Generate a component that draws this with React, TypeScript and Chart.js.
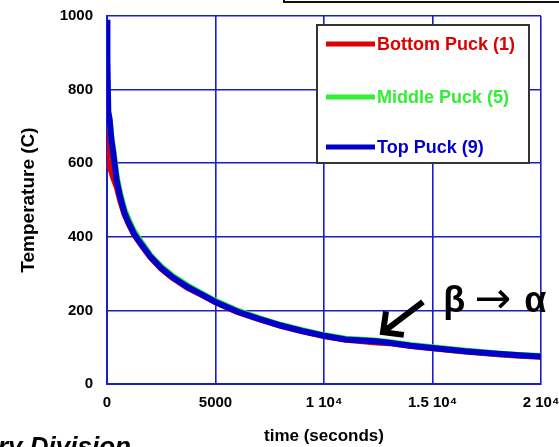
import React, { useEffect, useRef } from "react";
import { Chart, registerables } from "chart.js";

Chart.register(...registerables);

// ---- data ----
const timeSec = [0, 20, 60, 120, 200, 300, 450, 600, 800, 1000, 1250, 1600, 2000, 2500, 3000, 3700, 4400, 5000, 6000, 7000, 8000, 9000, 10000, 11000, 11800, 12400, 13000, 14000, 15000, 16500, 18000, 19000, 20000];
const bottomPuck = [718, 650, 610, 592, 578, 558, 535, 500, 462, 435, 406, 376, 344, 313, 289, 262, 241, 222, 196, 176, 158, 143, 130, 120, 116, 113, 111, 103, 97, 88, 81, 77, 74];
const middlePuck = [745, 742, 738, 718, 672, 632, 562, 520, 475, 446, 415, 384, 350, 319, 295, 268, 245, 226, 200, 179, 161, 146, 133, 123, 120, 118, 114, 106, 100, 91, 83, 79, 76];
const topPuck = [990, 880, 740, 720, 665, 622, 552, 510, 466, 438, 408, 378, 346, 315, 291, 264, 242, 223, 197, 177, 159, 144, 131, 121, 118, 116, 112, 104, 98, 89, 82, 78, 75];
const seriesLabels = ["Bottom Puck (1)", "Middle Puck (5)", "Top Puck (9)"];
const seriesColors = ["#dd0000", "#33ee33", "#0000cc"];
const xTickValues = [0, 5000, 10000, 15000, 20000];
const xTickLabels = ["0", "5000", "1 10⁴", "1.5 10⁴", "2 10⁴"];
const yTickValues = [0, 200, 400, 600, 800, 1000];
const xTitle = "time (seconds)";
const yTitle = "Temperature (C)";
const annotationBeta = "β";
const annotationArrow = "→";
const annotationAlpha = "α";
const annotationTextAt = { x: 15500, y: 196 };
const arrowTail = { x: 14560, y: 223 };
const arrowTip = { x: 12720, y: 141 };
const footerText = "ry Division";

const FONT = "'Liberation Sans', Arial, Helvetica, sans-serif";
const GRID = "#1c1ccc";

const legendPlugin = {
  id: "boxLegend",
  afterDatasetsDraw(chart: any) {
    const { ctx, chartArea } = chart;
    const left = chartArea.right - 224;
    const top = chartArea.top + 9;
    const w = 212;
    const h = 138;
    ctx.save();
    ctx.fillStyle = "#ffffff";
    ctx.fillRect(left, top, w, h);
    ctx.strokeStyle = "#333333";
    ctx.lineWidth = 2;
    ctx.strokeRect(left, top, w, h);
    const rows = [19, 72, 122];
    chart.data.datasets.forEach((ds: any, i: number) => {
      const y = top + rows[i];
      ctx.strokeStyle = ds.borderColor;
      ctx.lineWidth = 5;
      ctx.beginPath();
      ctx.moveTo(left + 9, y);
      ctx.lineTo(left + 58, y);
      ctx.stroke();
      ctx.fillStyle = ds.borderColor;
      ctx.font = `bold 18px ${FONT}`;
      ctx.textAlign = "left";
      ctx.textBaseline = "middle";
      ctx.fillText(ds.label, left + 60, y + 1);
    });
    ctx.restore();
  },
};

const annotationPlugin = {
  id: "arrowNote",
  afterDatasetsDraw(chart: any) {
    const { ctx } = chart;
    const xs = chart.scales.x;
    const ys = chart.scales.y;
    const tx = xs.getPixelForValue(arrowTail.x);
    const ty = ys.getPixelForValue(arrowTail.y);
    const hx = xs.getPixelForValue(arrowTip.x);
    const hy = ys.getPixelForValue(arrowTip.y);
    const ang = Math.atan2(hy - ty, hx - tx);
    ctx.save();
    ctx.strokeStyle = "#000";
    ctx.lineWidth = 6;
    ctx.lineCap = "butt";
    ctx.beginPath();
    ctx.moveTo(tx, ty);
    ctx.lineTo(hx - 3 * Math.cos(ang), hy - 3 * Math.sin(ang));
    ctx.stroke();
    const wl = 21;
    ctx.lineJoin = "miter";
    ctx.beginPath();
    ctx.moveTo(hx - wl * Math.cos(ang - 0.78), hy - wl * Math.sin(ang - 0.78));
    ctx.lineTo(hx, hy);
    ctx.lineTo(hx - wl * Math.cos(ang + 0.78), hy - wl * Math.sin(ang + 0.78));
    ctx.stroke();
    // label
    const lx = xs.getPixelForValue(annotationTextAt.x);
    const ly = ys.getPixelForValue(annotationTextAt.y);
    ctx.fillStyle = "#000";
    ctx.textAlign = "left";
    ctx.textBaseline = "alphabetic";
    ctx.font = `bold 36px ${FONT}`;
    ctx.fillText(annotationBeta, lx, ly);
    ctx.font = `44px 'DejaVu Sans', ${FONT}`;
    ctx.fillText(annotationArrow, lx + 31, ly + 1);
    ctx.font = `bold 36px ${FONT}`;
    ctx.fillText(annotationAlpha, lx + 81, ly);
    ctx.restore();
  },
};

export default function App() {
  const ref = useRef<HTMLCanvasElement | null>(null);
  useEffect(() => {
    if (!ref.current) return;
    const series = [bottomPuck, middlePuck, topPuck];
    const chart = new Chart(ref.current, {
      type: "line",
      data: {
        datasets: series.map((vals, i) => ({
          label: seriesLabels[i],
          data: timeSec.map((t, k) => ({ x: t, y: vals[k] })),
          borderColor: seriesColors[i],
          backgroundColor: seriesColors[i],
          borderWidth: 6,
          pointRadius: 0,
          tension: 0,
          fill: false,
          order: 2 - i,
        })),
      },
      options: {
        responsive: false,
        animation: false,
        layout: { padding: { left: 0, top: 16, right: 18, bottom: 0 } },
        plugins: { legend: { display: false }, tooltip: { enabled: false } },
        scales: {
          x: {
            type: "linear",
            min: 0,
            max: 20000,
            afterBuildTicks: (s: any) => {
              s.ticks = xTickValues.map((v) => ({ value: v }));
            },
            afterFit: (s: any) => {
              s.height = 63;
              s.paddingLeft = 0;
              s.paddingRight = 0;
            },
            ticks: {
              autoSkip: false,
              maxRotation: 0,
              padding: 10,
              color: "#000",
              font: { family: FONT, size: 15, weight: "bold" },
              callback: (v: any) => {
                const i = xTickValues.indexOf(Number(v));
                return i >= 0 ? xTickLabels[i] : "";
              },
            },
            grid: { color: GRID, lineWidth: 1.6, drawTicks: false },
            border: { color: GRID, width: 2 },
            title: {
              display: true,
              text: xTitle,
              color: "#000",
              font: { family: FONT, size: 17, weight: "bold" },
              padding: { top: 0, bottom: 0 },
            },
          },
          y: {
            type: "linear",
            min: 0,
            max: 1000,
            afterBuildTicks: (s: any) => {
              s.ticks = yTickValues.map((v) => ({ value: v }));
            },
            afterFit: (s: any) => {
              s.width = 107;
              s.paddingTop = 0;
              s.paddingBottom = 0;
            },
            ticks: {
              padding: 14,
              color: "#000",
              font: { family: FONT, size: 15, weight: "bold" },
              callback: (v: any) => String(v),
            },
            grid: { color: GRID, lineWidth: 1.6, drawTicks: false },
            border: { color: GRID, width: 2 },
            title: {
              display: true,
              text: yTitle,
              color: "#000",
              font: { family: FONT, size: 19, weight: "bold" },
              padding: { top: 17, bottom: 0 },
            },
          },
        },
      },
      plugins: [legendPlugin, annotationPlugin],
    } as any);
    return () => chart.destroy();
  }, []);

  return (
    <div
      style={{
        position: "fixed",
        left: 0,
        top: 0,
        width: 559,
        height: 447,
        overflow: "hidden",
        background: "#fff",
      }}
    >
      <canvas ref={ref} width={559} height={447} style={{ position: "absolute", left: 0, top: 0, width: 559, height: 447 }} />
      <div
        style={{
          position: "absolute",
          left: 283,
          top: -21,
          width: 290,
          height: 20,
          border: "2px solid #111",
        }}
      />
      <div
        style={{
          position: "absolute",
          left: -2,
          top: 433,
          fontFamily: FONT,
          fontWeight: "bold",
          fontStyle: "italic",
          fontSize: 26,
          lineHeight: "26px",
          whiteSpace: "nowrap",
          color: "#000",
        }}
      >
        {footerText}
      </div>
    </div>
  );
}
